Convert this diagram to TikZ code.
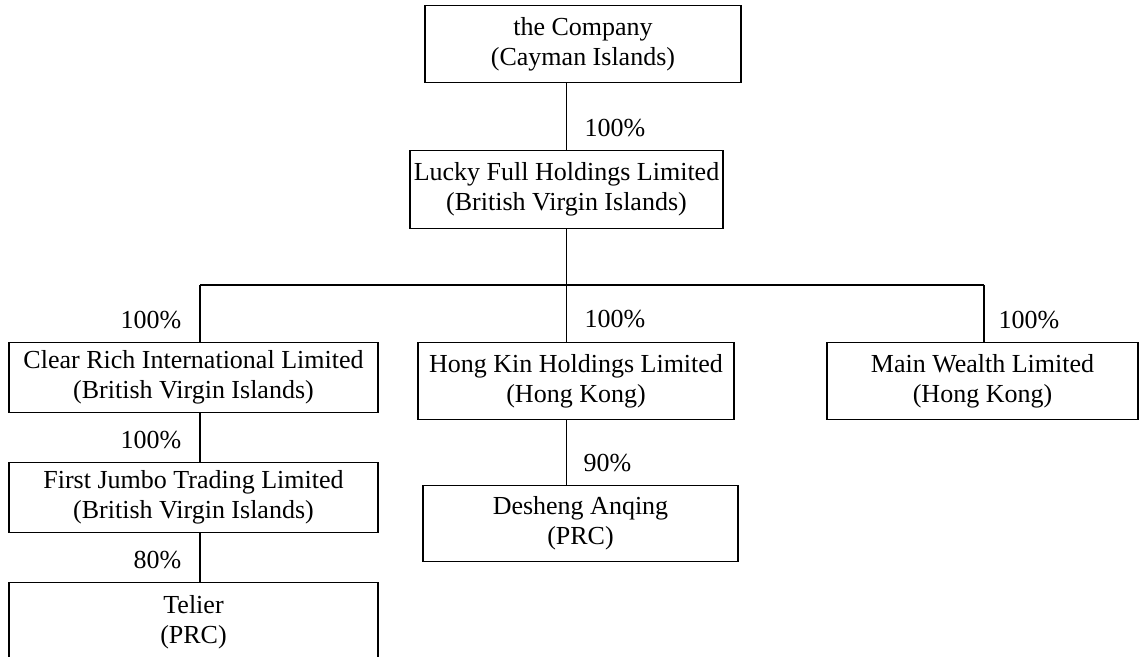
\documentclass[tikz,border=0pt]{standalone}
\usepackage{fontspec}
\setmainfont{Liberation Serif}
\usepackage{tikz}
\usetikzlibrary{positioning,calc}

\begin{document}
\begin{tikzpicture}[x=0.5pt, y=-0.5pt, line width=0.6pt,
        every node/.style={font=\fontsize{13}{15}\selectfont},
        box/.style={draw, rectangle, align=center, inner sep=0pt},
        pct/.style={inner sep=0pt}]
        \useasboundingbox (0,0) rectangle (1139,657);

        % Top holding
        \node[box, minimum width=158pt, minimum height=38.5pt] (company) at (583,44) {the Company\\(Cayman Islands)};
        \node[box, minimum width=156.5pt, minimum height=39pt] (lucky) at (566.5,189.5) {Lucky Full Holdings Limited\\(British Virgin Islands)};

        % Second level
        \node[box, minimum width=184.5pt, minimum height=35pt] (clear) at (193.5,377.5) {Clear Rich International Limited\\(British Virgin Islands)};
        \node[box, minimum width=158pt, minimum height=38.5pt] (hongkin) at (576,381) {Hong Kin Holdings Limited\\(Hong Kong)};
        \node[box, minimum width=155.5pt, minimum height=38.5pt] (mainw) at (982.5,381) {Main Wealth Limited\\(Hong Kong)};

        % Lower levels
        \node[box, minimum width=184.5pt, minimum height=35pt] (jumbo) at (193.5,497.5) {First Jumbo Trading Limited\\(British Virgin Islands)};
        \node[box, minimum width=184.5pt, minimum height=40pt] (telier) at (193.5,622.5) {Telier\\(PRC)};
        \node[box, minimum width=157.5pt, minimum height=38pt] (desheng) at (580.5,523.5) {Desheng Anqing\\(PRC)};

        % Connectors
        \coordinate (busL) at (200,285);
        \coordinate (busR) at (984,285);
        \coordinate (bus) at (lucky.south |- busL);
        \draw (lucky.north) -- (lucky.north |- company.south);
        \draw (lucky.south) -- (bus);
        \draw (busL) -- (busR);
        \draw (busL) -- (busL |- clear.north);
        \draw (bus) -- (bus |- hongkin.north);
        \draw (busR) -- (busR |- mainw.north);
        \draw (busL |- clear.south) -- (busL |- jumbo.north);
        \draw (busL |- jumbo.south) -- (busL |- telier.north);
        \draw (bus |- hongkin.south) -- (bus |- desheng.north);

        % Shareholdings
        \node[pct, anchor=west] (p1) at (584,128) {100\%};
        \node[pct, anchor=east] (p2) at (182,320) {100\%};
        \node[pct, anchor=west] (p3) at (584,319) {100\%};
        \node[pct, anchor=west] (p4) at (998,320) {100\%};
        \node[pct, anchor=east] (p5) at (182,440) {100\%};
        \node[pct, anchor=west] (p6) at (583,463) {90\%};
        \node[pct, anchor=east] (p7) at (182,560) {80\%};
    \end{tikzpicture}
\end{document}
